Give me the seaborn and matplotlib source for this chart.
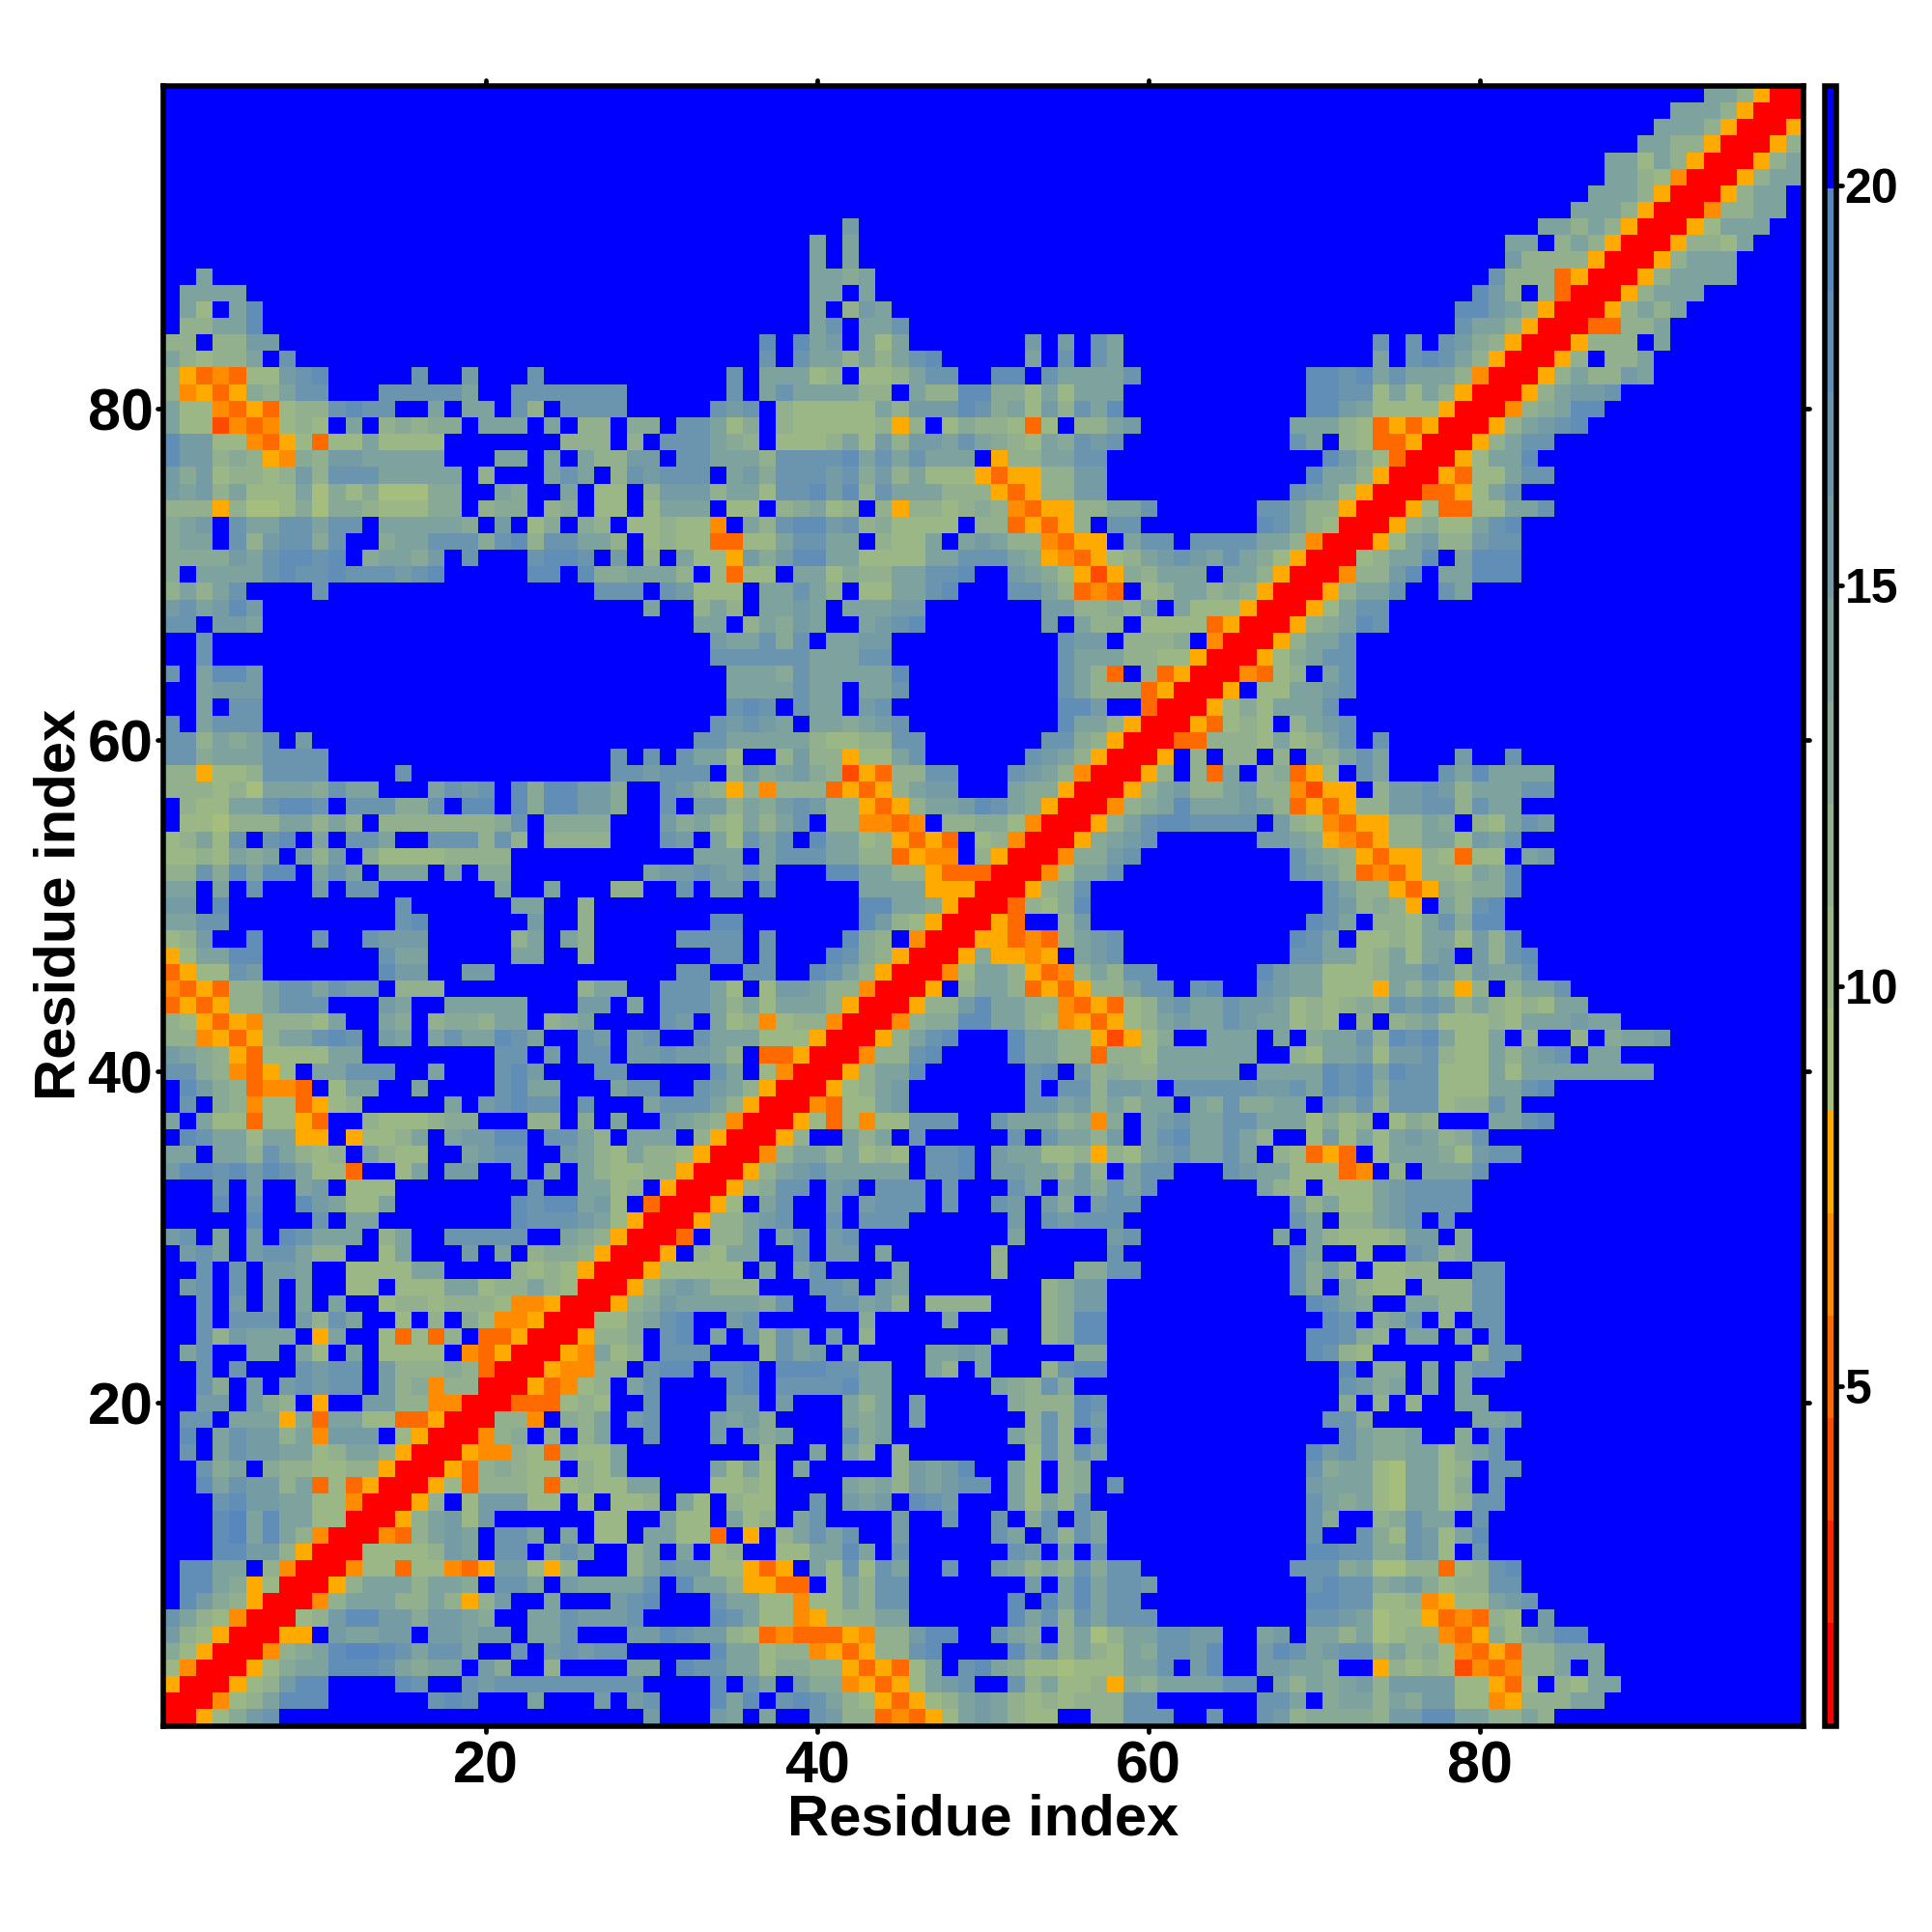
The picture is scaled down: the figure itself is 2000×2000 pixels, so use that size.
import numpy as np
import seaborn as sns
import matplotlib.pyplot as plt
from matplotlib.colors import ListedColormap, BoundaryNorm
from matplotlib.markers import MarkerStyle

# distance bins of the colour bar and the colour of each bin
bin_edges = [0.76, 2.04, 3.32, 4.60, 5.88, 7.16, 8.44, 9.72, 11.00, 12.28,
             13.56, 14.84, 16.12, 17.40, 18.68, 19.96, 21.24]
bin_colors = ["#ff0000", "#ff2500", "#ff4a00", "#ff6a00", "#ff8c00", "#ffaa00",
              "#a5be7d", "#9bb785", "#92b08e", "#88a996", "#7ea29d", "#759ba5",
              "#6b95ae", "#618eb6", "#5887be", "#0000ff"]
x_ticks = [20, 40, 60, 80]
y_ticks = [20, 40, 60, 80]
cbar_ticks = [5, 10, 15, 20]

# lower triangle of the map, one row per residue (1..99), x = 1..row
# every character is the bin number (hex) of one cell
F25 = "f" * 25
tri_rows = [
    "0",
    "00",
    "500",
    "7400",
    "97500",
    "b87500",
    "ca87400",
    "fdb98500",
    "fdda95700",
    "fddaaf8400",
    "fffddbb8500",
    "fffdeada8400",
    "fffdeadaa7700",
    "fffcdbbaa77400",
    "ffdacbb8a373500",
    "ffc9af9887788500",
    "fcfacbbaa78aa8500",
    "fdfacbb8a4bbbf7500",
    "fccfaaa593aa7733500",
    "ffbbfb98f5ffbb884400",
    "ffc9fbfbcbccfb8948800",
    "ffcfcfffcbccfb88898300",
    "facffaafa7faf7777f43500",
    "ffc8baaaf5aff73738f33500",
    "ffcfcccfb8caff7f8f9744500",
    "ffcfbfbfafaff7887888744500",
    "fbcfcfbfaff77f777aa788a8700",
    "ffcfcfbbaff7777aaffff8787500",
    "fbcafbcca88ff7afffbfaf8998500",
    "bcfafbfdcaaaf8affcccccffa98500",
    "fffffdfffcfaaffffffffdcccba7500",
    "fffdfcffdba77afffffffdcdd" + "ab7f300",
    "fffcfbffabf777ffffffffcff" + "aa78f500",
    "bddcdbdca773ff7afbbffcfaf" + "a87788500",
    "aafaa8ca878fa877ffabccffb" + "a87a887500",
    "fdcaa7aa55f5778afabbddfcc" + "a8faaaf8500",
    "afa7737753ff8777899fff88f" + "9faffba98400",
    "fcf984773578fffffafbcdccf" + "cfffaccca8500",
    "fdb983443f7aaffaffffcdaaf" + "ffaccffcba8500",
    "cc984357faacccffafffcdbff" + "fccfffffcaf7400",
    "ba98537777aaffffffffccfbf" + "ccfbbcbba8f33500",
    "8845358aacdcfbafacaadcaff" + "cbfbcffcaaa777500",
    "8753548887affa9f8998aaf89" + "affffcbfa784788400",
    "353588acccfffbaffaaaaafff" + "bbfafccca8a7aaa8500",
    "435388accacbbf888ffffffff" + "8aaffccca7f7bba88400",
    "3577cbfffffffdbbffbbfffff" + "ffffffccffccffdca8500",
    "57aaddfffffffcaafffffaaff" + "8fffffffccfcfffdc98500",
    "78bffdfffcffcbbbfffff8afa" + "8fffffccccfcffffd98f400",
    "aaccffffffffffcdffffffbff" + "8fffffffddfffffffdb87500",
    "bbfdffffffffffcffffffaaff" + "8" + "f" * 16 + "ddaa9500",
    "aafafcfffbfccfffffffaffaf" + "ff88ffcfbbfcfffffaaaa5550" + "0",
    "88c9daddfacafaaafaf99ffff" + "ffffabbcbacafffddaa885333" + "00",
    "7787a9afb8bf977778888ffff" + "fffffffaaafacccaa883544f8" + "500",
    "78a7cfcdfafccaffccc8c8f88" + "88fffcbfa7cacfdaa785353f7" + "8400",
    "f776888aa8a8f88888889cf99" + "99fffb9a87a8acf884434f889" + "97400",
    "f877aacddcfccc99cfddfd9dd" + "bb9ffcfbb8a9bcb885358aabd" + "ca9500",
    "888786aaa9caafffacbcfd9dd" + "bb9ffcb9858488835358abbff" + "fa99500",
    "885778ccccffffc" + "f" * 10 + "ffccbcccf8b9ab9825388ccff" + "fcba8400",
    "cc9aaacccc" + "f" * 15 + "ffcfcfcaa7ff8b88577acffff" + "ffcba8500",
    "cc8a9acfbf" + "f" * 15 + "fffffffccaaaaa87788ccffff" + "fffcc98500",
    "cfaccc" + "f" * 19 + "ffffffffcbcbafaa9abcfffff" + "ffffdaa8500",
    "ffafcc" + "f" * 19 + "fffffffffcdcfcaafbcffffff" + "ffffddbff300",
    "ffabbb" + "f" * 19 + "fffffffffaaaacaafaacfffff" + "ffffca8883500",
    "cfaddb" + "f" * 19 + "fffffffffaaa9caaaaadfffff" + "ffffca83f83500",
    "ffc" + "f" * 22 + "ffffffffccccccaaaccffffff" + "ffffcaaa8877500",
    "ffc" + "f" * 22 + "ffffffffbaac9cfaabbffffff" + "ffffcbbf8889f400",
    "ccfbba" + "f" * 19 + "fffffffaaf8a9baffabcdffff" + "fffbfa88f77773500",
    "bcabdb" + "f" * 19 + "ffffaff8a8faabafaaabbffff" + "fffbb8898afa777500",
    "8a8acffffc" + "f" * 15 + "fcccfcb777faaca8f77aacdff" + "fcca8343f78aa898500",
    "9faaaacdccdcccbcdfffffddf" + "d99aaa8f7377faa7988aaccdf" + "fba9752598aaafaa8500",
    "9999bacddcdf9aa9bfcfffcdd" + "cfbf8fa775b9bddaa7777aacc" + "ca9543578abcbaca97500",
    "9aafc8bcc9cff9aaccc9cd8cc" + "aa8f78773377accaaf877afab" + "a884355faccfccccaa8400",
    "9abfcaaccaccfaaaaa9fbf79f" + "98f778774fa8cddbc897777f8" + "835358fcc" + "f" * 7 + "dca8700",
    "888586679699877799f899f89" + "f77f7aaaf77f89a78f8588789" + "8435588aac" + "f" * 6 + "cca88500",
    "bab8a777a697966699ffa9ffa" + "f77f8bbb8aa7ccdbd8caaa888" + "53588bb" + "f" * 11 + "cba7500",
    "b9b78878b8cccaaaaaf8fffac" + "af8cbcccfab9cccbc9b8a7775" + "35588bb" + "f" * 12 + "daa850" + "0",
    "dbb8985498bbaaaaafffaafaf" + "a88bbfccaaa8ccccdacacaaaf" + "588aacc" + "f" * 13 + "db973" + "00",
    "dbb774357377a7777fffffff8" + "88f8fccca98f7778a7b8bbaca" + "987a9cbc" + "f" * 10 + "caf8733" + "500",
    "a772434787faf89899faaafaf" + "88f99fcca79f877777858f798" + "8737f88ab" + "f" * 9 + "aaa8735" + "3500",
    "a774353788cdccffafaafc8fc" + "cccfffffcbcf877777a8bbbdc" + "9a7b8cad" + "f" * 11 + "ddba77" + "77500",
    "8453598accfffcccccaffcccc" + "cccffffffcfacaaaa88fa88dd" + "997a7aaa" + "f" * 11 + "ddcc7a" + "7a8500",
    "8534377bcdfffffcffbfffcff" + "fffffffffcfaaa78f778accff" + "ddfcaaaac" + "f" * 10 + "ddcdac" + "aaa8400",
    "a8788afc" + "f" * 17 + "f" * 11 + "cfcaa8a8acdfff" + "ffafcfca" + "f" * 15 + "af" + "cdca8500",
    "88f88bb" + "f" * 18 + "f" * 11 + "dfdabfa7afffff" + "ffbfbfca" + "f" * 15 + "cf" + "cfcb98500",
    "f88aad" + "f" * 19 + "f" * 14 + "acfaacfffff" + F25 + "fffcaa8500",
    "fa7fad" + "f" * 19 + "f" * 14 + "af8baffffff" + F25 + "fffddba8500",
    "faaaa" + "f" * 20 + "f" * 14 + "aafafffffff" + F25 + "ffffdb8f8300",
    "ffa" + "f" * 22 + "f" * 14 + "aa9afffffff" + F25 + "fffffc8883500",
    F25 + "f" * 14 + "afaffffffff" + F25 + "ffffffb8888500",
    F25 + "f" * 14 + "afaffffffff" + F25 + "ffffffaaf8a8500",
    F25 + "f" * 16 + "bffffffff" + F25 + "ffffffffaa8a8500",
    F25 * 3 + "f" * 10 + "aaa8500",
    F25 * 3 + "f" * 11 + "aaa8500",
    F25 * 3 + "f" * 12 + "aa87400",
    F25 * 3 + "f" * 12 + "aa7a8500",
    F25 * 3 + "f" * 14 + "aa88500",
    F25 * 3 + "f" * 15 + "aaa8500",
    F25 * 3 + "f" * 16 + "aaa8500",
    F25 * 3 + "f" * 18 + "aa8500",
]

bad = [(i + 1, len(r)) for i, r in enumerate(tri_rows) if len(r) != i + 1]
if bad or len(tri_rows) != 99:
    raise SystemExit(f"row length problems: {bad}, rows {len(tri_rows)}")

mid = [(bin_edges[i] + bin_edges[i + 1]) / 2 for i in range(len(bin_colors))]
n = len(tri_rows)
dist = np.zeros((n, n))
for i, row in enumerate(tri_rows):
    for j, ch in enumerate(row):
        dist[i, j] = mid[int(ch, 16)]
        dist[j, i] = dist[i, j]

sns.set_style("ticks")
plt.rcParams["font.family"] = ["Liberation Sans", "DejaVu Sans"]
plt.rcParams["font.weight"] = "bold"
plt.rcParams["text.color"] = "black"
plt.rcParams["axes.labelcolor"] = "black"
plt.rcParams["xtick.labelcolor"] = "black"
plt.rcParams["ytick.labelcolor"] = "black"

W = 2000.0
fig = plt.figure(figsize=(20, 20), dpi=100)
ax = fig.add_axes([168.9 / W, 1 - 1786.5 / W, (1866.5 - 168.9) / W, (1786.5 - 89) / W])
cax = fig.add_axes([1889.3 / W, 1 - 1786.5 / W, 12.0 / W, (1786.5 - 89) / W])

cmap = ListedColormap(bin_colors)
norm = BoundaryNorm(bin_edges, cmap.N)
sns.heatmap(dist, ax=ax, cbar_ax=cax, cmap=cmap, norm=norm,
            xticklabels=False, yticklabels=False,
            cbar_kws={"ticks": cbar_ticks, "spacing": "proportional"})
ax.invert_yaxis()

ax.set_xticks([t - 0.5 for t in x_ticks])
ax.set_yticks([t - 0.5 for t in y_ticks])
ax.set_xticklabels(x_ticks, fontsize=44, fontweight="bold", color="black")
ax.set_yticklabels(y_ticks, fontsize=44, fontweight="bold", rotation=0, color="black")
ax.tick_params(axis="both", which="major", direction="out", length=4.5, width=3.4,
               top=True, right=True, left=True, bottom=True, color="black")
ax.tick_params(axis="x", pad=6)
ax.tick_params(axis="y", pad=3)
ax.set_xlabel("Residue index", fontsize=43, fontweight="bold", color="black")
ax.set_ylabel("Residue index", fontsize=43, fontweight="bold", color="black")
ax.xaxis.set_label_coords((1018 - 168.9) / (1866.5 - 168.9), -0.0415)
ax.yaxis.set_label_coords(-0.0470, (1786.5 - 936) / (1786.5 - 89))
for side in ax.spines.values():
    side.set_visible(True)
    side.set_linewidth(4)
    side.set_color("black")

cbar = ax.collections[0].colorbar
cbar.outline.set_visible(True)
cbar.outline.set_linewidth(4)
cbar.outline.set_edgecolor("black")
cbar.ax.set_yticks(cbar_ticks)
cbar.ax.set_yticklabels(cbar_ticks, fontsize=36, fontweight="bold", color="black")
cbar.ax.tick_params(axis="y", which="major", direction="out", length=4, width=3.4,
                    right=True, left=False, pad=2, color="black")
cbar.ax.minorticks_off()

# round ends on the ticks
for a in (ax, cbar.ax):
    for line in a.get_xticklines() + a.get_yticklines():
        line.set_marker(MarkerStyle(line.get_marker(), capstyle="round"))

fig.savefig("out.png", dpi=100)
